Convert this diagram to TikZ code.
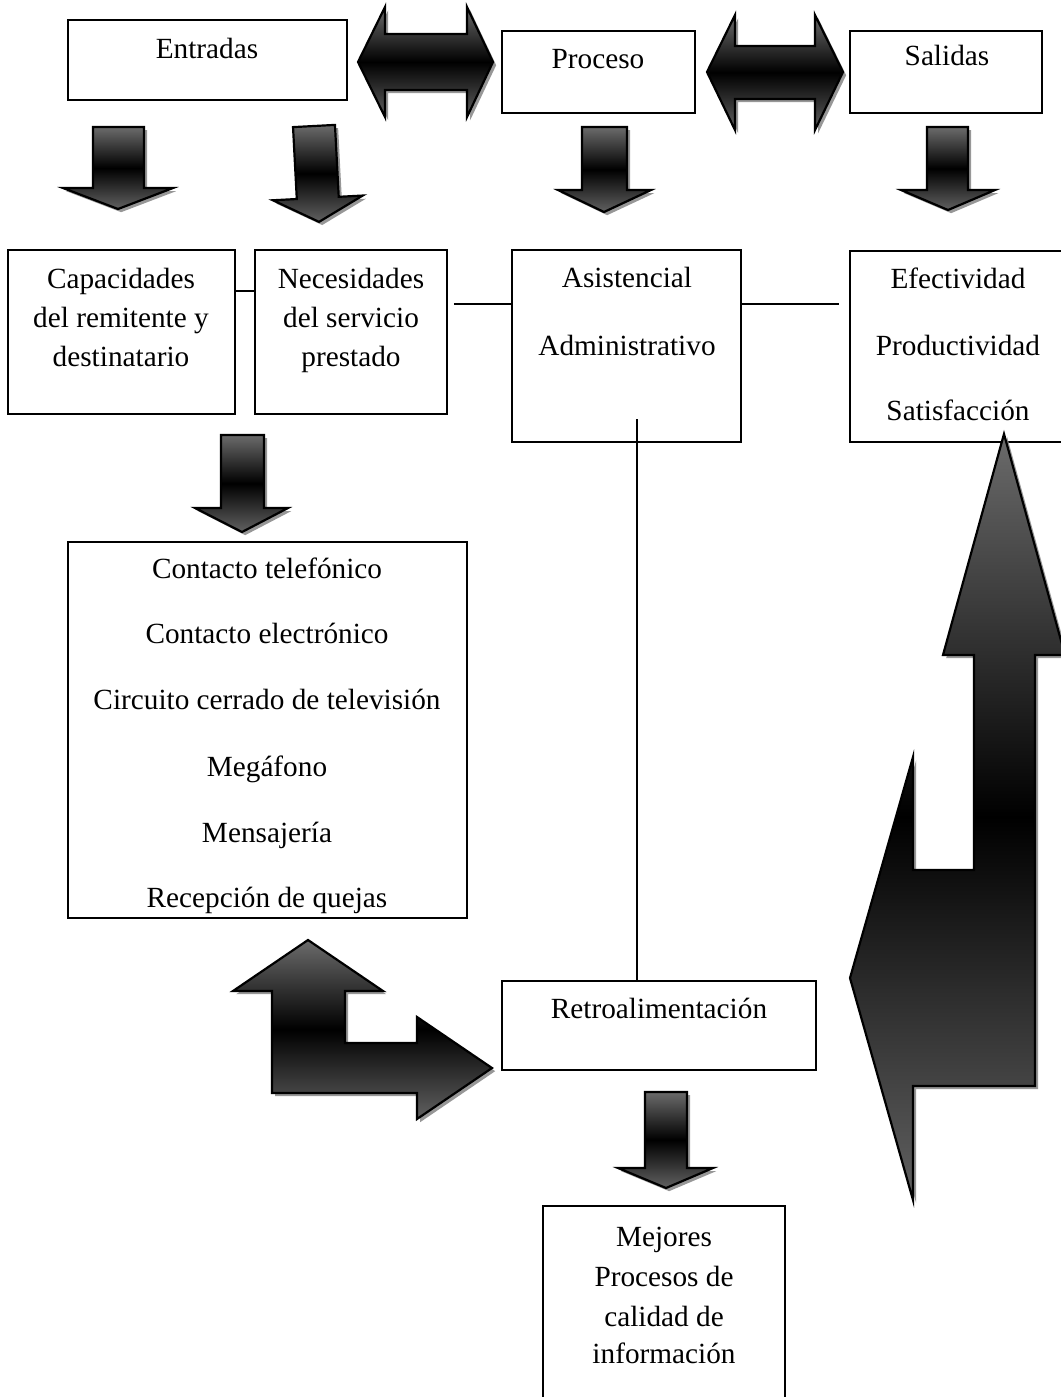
\documentclass[tikz,border=0pt]{standalone}
\usepackage{fontspec}
\setmainfont{Liberation Serif}
\usetikzlibrary{fit,shadows}

\begin{document}
\begin{tikzpicture}[x=0.41pt,y=-0.41pt,
			caja/.style={draw,line width=0.6pt,inner sep=0pt},
			txt/.style={font=\fontsize{12}{14}\selectfont,inner sep=0pt,anchor=base},
			lin/.style={line width=0.6pt},
			fl/.style={draw=black,line width=0.9pt,line join=miter,top color=black!58,bottom color=black!62,middle color=black,
				drop shadow={shadow xshift=1.3pt,shadow yshift=-1.3pt,fill=black!45,opacity=0.9}}]
			\useasboundingbox (0,0) rectangle (1061,1397);
			% cajas
			\node[caja,fit={(68,20) (347,100)}] (entradas) {};
			\node[caja,fit={(502,31) (695,113)}] (proceso) {};
			\node[caja,fit={(850,31) (1042,113)}] (salidas) {};
			\node[caja,fit={(8,250) (235,414)}] (capac) {};
			\node[caja,fit={(255,250) (447,414)}] (necesid) {};
			\node[caja,fit={(512,250) (741,442)}] (asist) {};
			\node[caja,fit={(850,251) (1066,442)}] (efect) {};
			\node[caja,fit={(68,542) (467,918)}] (medios) {};
			\node[caja,fit={(502,981) (816,1070)}] (retro) {};
			\node[caja,fit={(543,1206) (785,1402)}] (mejores) {};
			% textos
			\node[txt] (tentradas) at (207,58) {Entradas};
			\node[txt] (tproceso) at (598,68) {Proceso};
			\node[txt] (tsalidas) at (947,65) {Salidas};
			\foreach \t/\yy [count=\i] in {Capacidades/288,del remitente y/327,destinatario/366}
				\node[txt] (capac\i) at (121,\yy) {\t};
			\foreach \t/\yy [count=\i] in {Necesidades/288,del servicio/327,prestado/366}
				\node[txt] (necesid\i) at (351,\yy) {\t};
			\foreach \t/\yy [count=\i] in {Asistencial/287,Administrativo/355}
				\node[txt] (asist\i) at (627,\yy) {\t};
			\foreach \t/\yy [count=\i] in {Efectividad/288,Productividad/355,Satisfacción/420}
				\node[txt] (efect\i) at (958,\yy) {\t};
			\foreach \t/\yy [count=\i] in {Contacto telefónico/578,Contacto electrónico/643,Circuito cerrado de televisión/709,Megáfono/776,Mensajería/842,Recepción de quejas/907}
				\node[txt] (medio\i) at (267,\yy) {\t};
			\node[txt] (tretro) at (659,1018) {Retroalimentación};
			\foreach \t/\yy [count=\i] in {Mejores/1246,Procesos de/1286,calidad de/1326,información/1363}
				\node[txt] (mejores\i) at (664,\yy) {\t};
			% lineas
			\coordinate (vini) at (637,419);
			\draw[lin] (capac.east |- 0,291) -- (necesid.west |- 0,291);
			\draw[lin,shorten <=2.5pt] (necesid.east |- 0,304) -- (asist.west |- 0,304);
			\draw[lin,shorten >=4.1pt] (asist.east |- 0,304) -- (efect.west |- 0,304);
			\draw[lin] (vini) -- (retro.north -| vini);
			% flechas dobles
			\filldraw[fl] (358,62) -- (385,7) -- (385,34) -- (467,34) -- (467,7) -- (493,62)
				-- (467,117) -- (467,90) -- (385,90) -- (385,117) -- cycle;
			\filldraw[fl] (707,72) -- (735,15) -- (735,46) -- (815,46) -- (815,15) -- (843,72)
				-- (815,130) -- (815,99) -- (735,99) -- (735,130) -- cycle;
			% flechas abajo
			\filldraw[fl] (93,127) -- (144,127) -- (144,188) -- (173,188) -- (118,209) -- (63,188) -- (93,188) -- cycle;
			\filldraw[fl,rotate around={3:(314,126)}] (293,126) -- (335,126) -- (335,198) -- (359,198) -- (314,222) -- (269,198) -- (293,198) -- cycle;
			\filldraw[fl] (582,127) -- (627,127) -- (627,190) -- (651,190) -- (604,212) -- (558,190) -- (582,190) -- cycle;
			\filldraw[fl] (927,127) -- (968,127) -- (968,190) -- (995,190) -- (948,210) -- (901,190) -- (927,190) -- cycle;
			\filldraw[fl] (221,435) -- (264,435) -- (264,508) -- (288,508) -- (242,532) -- (195,508) -- (221,508) -- cycle;
			\filldraw[fl] (645,1092) -- (687,1092) -- (687,1168) -- (713,1168) -- (666,1188) -- (618,1168) -- (645,1168) -- cycle;
			% flechas en L
			\filldraw[fl] (308,940) -- (383,991) -- (345,991) -- (345,1043) -- (417,1043) -- (417,1017) -- (492,1068)
				-- (417,1119) -- (417,1093) -- (272,1093) -- (272,991) -- (233,991) -- cycle;
			\filldraw[fl] (1004,434) -- (1065,655) -- (1035,655) -- (1035,1086) -- (913,1086) -- (913,1200) -- (850,978)
				-- (913,757) -- (913,870) -- (974,870) -- (974,655) -- (943,655) -- cycle;
		\end{tikzpicture}
\end{document}
